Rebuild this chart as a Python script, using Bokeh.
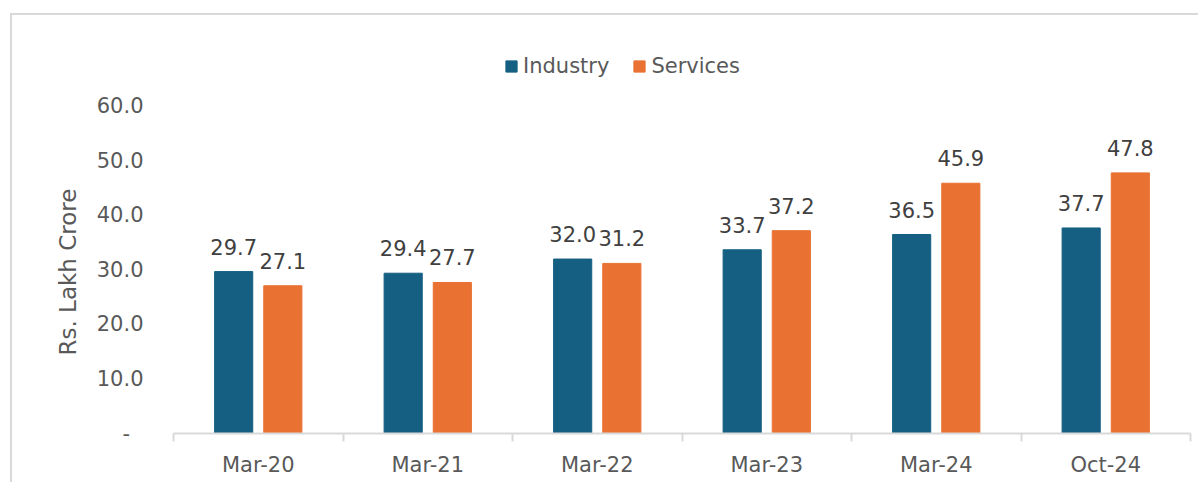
import numpy as np
from bokeh.plotting import figure
from bokeh.models import (ColumnDataSource, FixedTicker, Legend, LegendItem, Range1d, Title)
from bokeh.transform import dodge
from bokeh.core.properties import value
from bokeh.embed import file_html
from bokeh.resources import INLINE

categories = ["Mar-20", "Mar-21", "Mar-22", "Mar-23", "Mar-24", "Oct-24"]
industry = [29.7, 29.4, 32.0, 33.7, 36.5, 37.7]
services = [27.1, 27.7, 31.2, 37.2, 45.9, 47.8]
y_ticks = [0, 10, 20, 30, 40, 50, 60]

FONT = "DejaVu Sans"
C_IND = "#156082"
C_SER = "#E97132"
GRAY = "#595959"

xpos = np.arange(len(categories)) + 0.5
src = ColumnDataSource(dict(
    x=xpos,
    industry=industry,
    services=services,
    ind_lbl=[f"{v:.1f}" for v in industry],
    ser_lbl=[f"{v:.1f}" for v in services],
))

# frame extends above the 60 tick to host the legend
p = figure(width=1188, height=469, output_backend="svg", toolbar_location=None,
           x_range=Range1d(0, len(categories)), y_range=Range1d(0, 73.0),
           min_border_left=161, min_border_right=10, min_border_top=20,
           min_border_bottom=51)
p.styles = {"border-left": "2px solid #d9d9d9", "border-top": "2px solid #d9d9d9",
            "margin-left": "10px", "margin-top": "13px"}
p.outline_line_color = None
p.xgrid.visible = False
p.ygrid.visible = False
p.background_fill_color = "white"
p.border_fill_color = "white"

off = 0.145
bw = 0.225
r1 = p.vbar(x=dodge("x", -off), top="industry", width=bw, source=src,
            fill_color=C_IND, line_color=C_IND)
r2 = p.vbar(x=dodge("x", off), top="services", width=bw, source=src,
            fill_color=C_SER, line_color=C_SER)

common = dict(text_font=value(FONT), text_font_size="21px", text_color="#404040",
              text_align="center", text_baseline="alphabetic", y_offset=-25, source=src)
p.text(x=dodge("x", -off), y="industry", text="ind_lbl", **common)
p.text(x=dodge("x", off), y="services", text="ser_lbl", **common)

# x axis
xa = p.xaxis[0]
xa.ticker = FixedTicker(ticks=list(xpos), minor_ticks=list(range(len(categories) + 1)))
xa.major_label_overrides = {float(v): c for v, c in zip(xpos, categories)}
xa.major_tick_line_color = None
xa.minor_tick_line_color = "#d9d9d9"
xa.minor_tick_line_width = 2
xa.minor_tick_out = 8
xa.minor_tick_in = 0
xa.major_tick_out = 8
xa.major_tick_in = 0
xa.axis_line_color = "#d9d9d9"
xa.axis_line_width = 2
xa.major_label_text_font = FONT
xa.major_label_text_font_size = "21px"
xa.major_label_text_color = GRAY
xa.major_label_standoff = 11

# y axis
ya = p.yaxis[0]
ya.ticker = FixedTicker(ticks=y_ticks)
over = {float(t): f"{t:.1f}" for t in y_ticks}
over[0.0] = "-\u00a0\u00a0"
ya.major_label_overrides = over
ya.axis_line_color = None
ya.major_tick_line_color = None
ya.minor_tick_line_color = None
ya.major_tick_out = 0
ya.major_label_standoff = 30
ya.major_label_text_font = FONT
ya.major_label_text_font_size = "21px"
ya.major_label_text_color = GRAY

# y-axis title, positioned along the 0-60 part of the axis
ytitle = Title(text="Rs. Lakh Crore", align="left", offset=78, standoff=25,
               text_font=FONT, text_font_size="23px", text_font_style="normal",
               text_color=GRAY)
p.add_layout(ytitle, "left")

legend = Legend(items=[LegendItem(label="Industry", renderers=[r1]),
                       LegendItem(label="Services", renderers=[r2])],
                orientation="horizontal", location=(331, 355),
                glyph_width=14, glyph_height=14, label_standoff=5, spacing=23,
                padding=0, margin=0, border_line_color=None,
                background_fill_alpha=0,
                label_text_font=FONT, label_text_font_size="21px",
                label_text_color=GRAY)
p.add_layout(legend, "center")

open("out.html", "w").write(file_html(p, INLINE))
